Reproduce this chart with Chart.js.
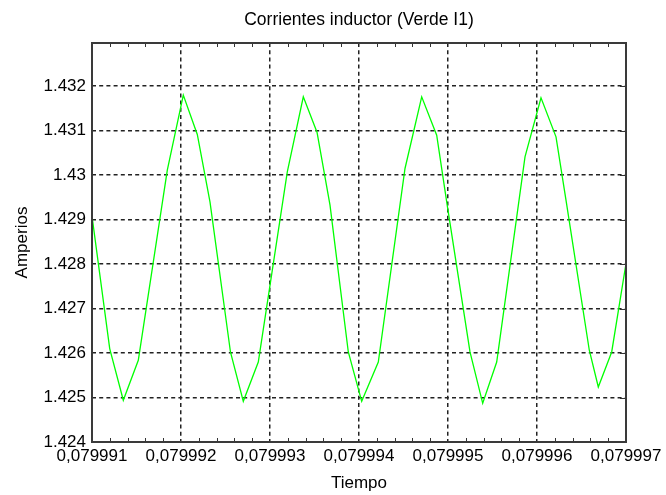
<!DOCTYPE html>
<html>
<head>
<meta charset="utf-8">
<script src="https://cdn.jsdelivr.net/npm/chart.js@4.4.1/dist/chart.umd.min.js"></script>
<style>
    body { margin: 0; background: #fff; }
    canvas { display: block; }
</style>
</head>
<body>
<canvas id="myChart" width="666" height="495"></canvas>
<script>
'use strict';

// vertices of the I1 trace
let tiempo = [
    0.0799910000, 0.0799911989, 0.0799913517, 0.0799915202, 0.0799918461,
    0.0799920258, 0.0799921831, 0.0799923258, 0.0799925562, 0.0799927000,
    0.0799928685, 0.0799931944, 0.0799933742, 0.0799935281, 0.0799936742,
    0.0799938798, 0.0799940303, 0.0799942169, 0.0799945169, 0.0799947045,
    0.0799948730, 0.0799949854, 0.0799952472, 0.0799953899, 0.0799955472,
    0.0799958652, 0.0799960449, 0.0799962135, 0.0799963258, 0.0799965876,
    0.0799966888, 0.0799968393, 0.0799970000
];
let corriente = [
    1.429077, 1.426101, 1.424938, 1.425838, 1.430111,
    1.431798, 1.430914, 1.429398, 1.426018, 1.424915,
    1.425799, 1.430073, 1.431760, 1.430966, 1.429324,
    1.426024, 1.424915, 1.425799, 1.430149, 1.431760,
    1.430898, 1.429398, 1.426024, 1.424870, 1.425799,
    1.430410, 1.431737, 1.430860, 1.429436, 1.426063,
    1.425237, 1.426024, 1.428013
];

let xTicks = [0.079991, 0.079992, 0.079993, 0.079994, 0.079995, 0.079996, 0.079997];
let xLabels = ['0,079991', '0,079992', '0,079993', '0,079994', '0,079995', '0,079996', '0,079997'];
let yTicks = [1.424, 1.425, 1.426, 1.427, 1.428, 1.429, 1.43, 1.431, 1.432];
let yLabels = ['1.424', '1.425', '1.426', '1.427', '1.428', '1.429', '1.43', '1.431', '1.432'];

let points = [];
for (let i = 0; i < tiempo.length; i++) {
    points.push({ x: tiempo[i], y: corriente[i] });
}

Chart.defaults.font.family = '"Liberation Sans", Arial, sans-serif';
Chart.defaults.color = '#000';

// frame round the plot with small inward ticks
let frame = {
    id: 'frame',
    afterDatasetsDraw(chart) {
        let ctx = chart.ctx;
        let a = chart.chartArea;
        let xs = chart.scales.x;
        let ys = chart.scales.y;
        ctx.save();
        ctx.strokeStyle = '#333';
        ctx.lineWidth = 1;
        ctx.beginPath();
        for (let i = 0; i < xTicks.length - 1; i++) {
            for (let j = 1; j < 5; j++) {
                let px = Math.round(xs.getPixelForValue(xTicks[i] + (xTicks[i + 1] - xTicks[i]) * j / 5)) + 0.5;
                ctx.moveTo(px, a.top);
                ctx.lineTo(px, a.top + 4);
                ctx.moveTo(px, a.bottom);
                ctx.lineTo(px, a.bottom - 4);
            }
        }
        for (let i = 0; i < yTicks.length; i++) {
            let py = Math.round(ys.getPixelForValue(yTicks[i])) + 0.5;
            ctx.moveTo(a.right, py);
            ctx.lineTo(a.right - 6, py);
        }
        ctx.stroke();
        ctx.lineWidth = 2;
        ctx.strokeStyle = '#3a3a3a';
        ctx.strokeRect(a.left, a.top, a.right - a.left, a.bottom - a.top);
        ctx.restore();
    }
};

let ctx = document.getElementById('myChart').getContext('2d');
new Chart(ctx, {
    type: 'line',
    data: {
        datasets: [{
            label: 'I1',
            data: points,
            borderColor: '#00ff00',
            borderWidth: 1.3,
            pointRadius: 0,
            tension: 0,
            fill: false
        }]
    },
    options: {
        responsive: false,
        animation: false,
        devicePixelRatio: 1,
        layout: { padding: { left: 0, right: 40, top: 0, bottom: 0 } },
        plugins: {
            legend: { display: false },
            tooltip: { enabled: false },
            title: {
                display: true,
                fullSize: false,
                text: 'Corrientes inductor (Verde I1)',
                font: { size: 17.5, weight: 'normal' },
                color: '#000',
                padding: { top: 10, bottom: 12 }
            }
        },
        scales: {
            x: {
                type: 'linear',
                min: 0.079991,
                max: 0.079997,
                afterFit: (scale) => { scale.height = 53; },
                afterBuildTicks: (scale) => { scale.ticks = xTicks.map(v => ({ value: v })); },
                ticks: {
                    font: { size: 17 },
                    color: '#000',
                    padding: 4,
                    maxRotation: 0,
                    autoSkip: false,
                    callback: (value, index) => xLabels[index]
                },
                grid: { color: '#222', lineWidth: 1.5, drawTicks: false },
                border: { display: false, dash: [4, 3.2] },
                title: {
                    display: true,
                    text: 'Tiempo',
                    font: { size: 17 },
                    color: '#000',
                    padding: { top: 0, bottom: 1 }
                }
            },
            y: {
                min: 1.424,
                max: 1.43297,
                afterFit: (scale) => { scale.width = 92; },
                afterBuildTicks: (scale) => { scale.ticks = yTicks.map(v => ({ value: v })); },
                ticks: {
                    font: { size: 17 },
                    color: '#000',
                    padding: 6,
                    autoSkip: false,
                    callback: (value, index) => yLabels[index]
                },
                grid: { color: '#222', lineWidth: 1.5, drawTicks: false },
                border: { display: false, dash: [4, 3.2] },
                title: {
                    display: true,
                    text: 'Amperios',
                    font: { size: 17 },
                    color: '#000',
                    padding: { top: 12, bottom: 0 }
                }
            }
        }
    },
    plugins: [frame]
});
</script>
</body>
</html>
